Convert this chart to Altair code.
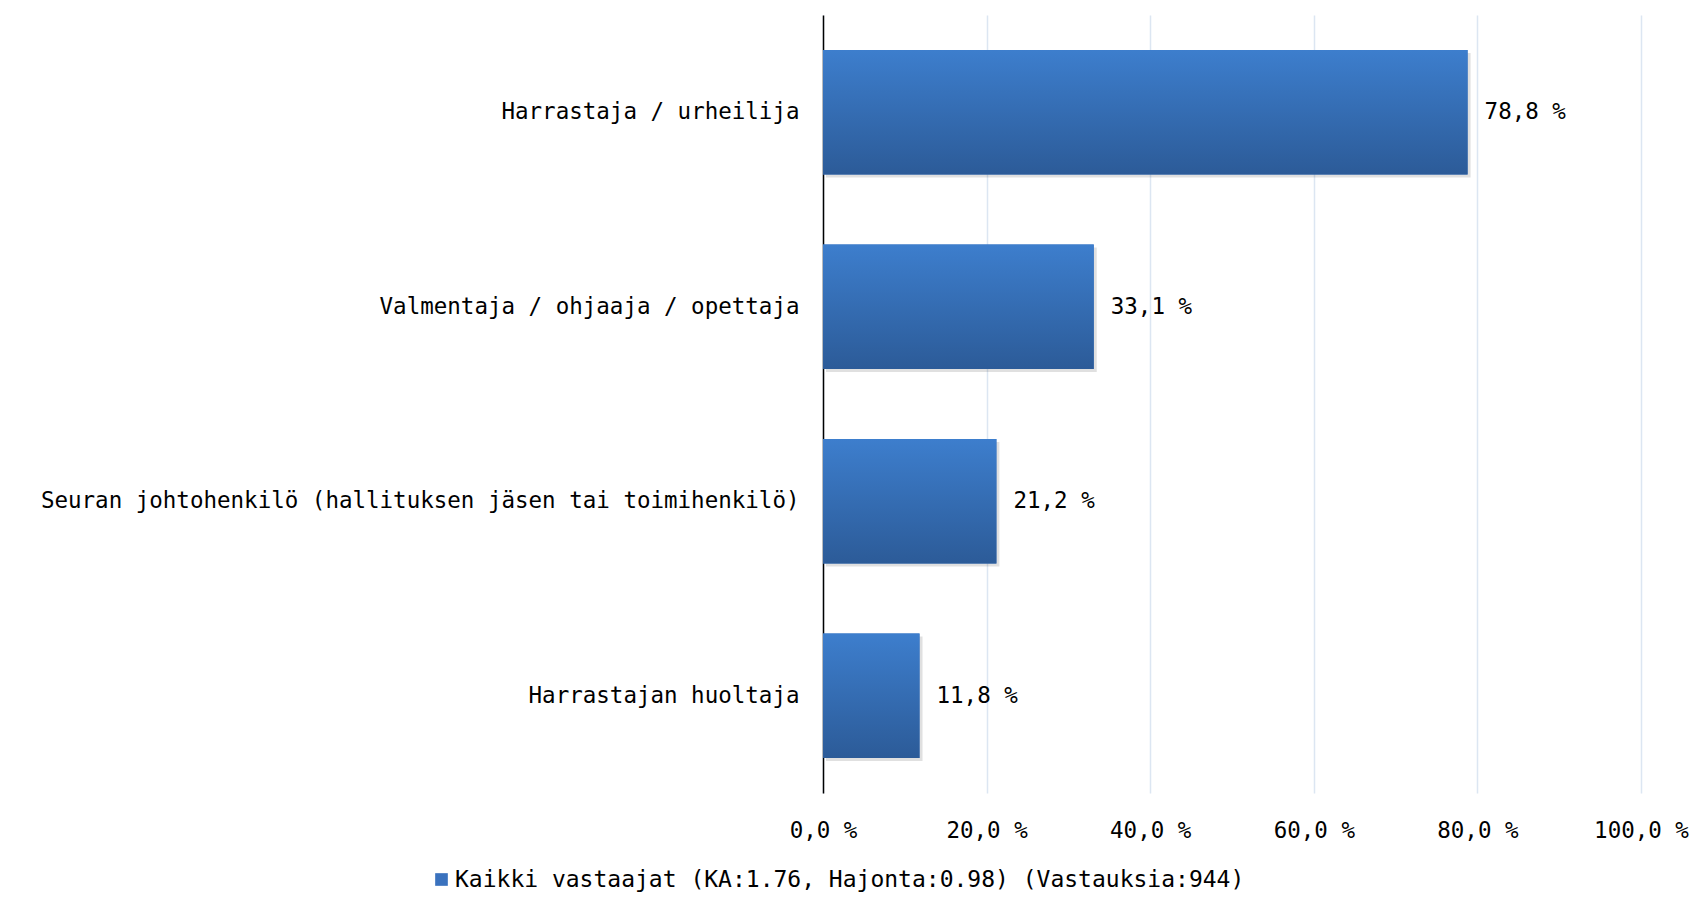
import altair as alt
import pandas as pd

categories = [
    "Harrastaja / urheilija",
    "Valmentaja / ohjaaja / opettaja",
    "Seuran johtohenkilö (hallituksen jäsen tai toimihenkilö)",
    "Harrastajan huoltaja",
]
values = [78.8, 33.1, 21.2, 11.8]
series_name = "Kaikki vastaajat (KA:1.76, Hajonta:0.98) (Vastauksia:944)"
x_ticks = [0, 20, 40, 60, 80, 100]

df = pd.DataFrame({
    "cat": categories,
    "val": values,
    "label": [f"{v:.1f}".replace(".", ",") + " %" for v in values],
    "series": [series_name] * len(values),
})

FONT = "DejaVu Sans Mono"
FS = 22.5

y_enc = alt.Y("cat:N", sort=categories, title=None,
              scale=alt.Scale(paddingInner=0.36, paddingOuter=0.18),
              axis=alt.Axis(labelFontSize=FS, labelFont=FONT, labelColor="#000000",
                            labelPadding=24, labelLimit=1000, ticks=False,
                            domain=True, domainColor="#000000", domainWidth=1.5,
                            grid=False))
x_enc = alt.X("val:Q", title=None,
              scale=alt.Scale(domain=[0, 100], nice=False),
              axis=alt.Axis(values=x_ticks, labelFontSize=FS, labelFont=FONT,
                            labelColor="#000000", labelPadding=26, ticks=False,
                            labelFlush=False, labelOverlap=False,
                            domain=False, grid=True, gridColor="#DCE6F2",
                            gridWidth=1.5,
                            labelExpr="replace(format(datum.value, '.1f'), '.', ',') + ' %'"))

base = alt.Chart(df)

shadow = base.mark_bar(color="#000000", opacity=0.12, xOffset=3, yOffset=3).encode(
    x=x_enc, y=y_enc)

legend_bar = base.mark_bar().encode(
    x=x_enc, y=y_enc,
    color=alt.Color("series:N", title=None,
                    scale=alt.Scale(range=["#3A72BE"]),
                    legend=alt.Legend(orient="none", legendX=-393, legendY=853,
                                      symbolType="square", symbolSize=160,
                                      symbolStrokeWidth=0,
                                      labelFontSize=23, labelFont=FONT,
                                      labelColor="#000000", labelLimit=2000,
                                      labelOffset=2)))

grad_bar = base.mark_bar(
    color=alt.Gradient(
        gradient="linear", x1=0, x2=0, y1=0, y2=1,
        stops=[alt.GradientStop(color="#3D7ECD", offset=0),
               alt.GradientStop(color="#2C5B98", offset=1)])
).encode(x=x_enc, y=y_enc)

labels = base.mark_text(align="left", baseline="middle", dx=17, fontSize=FS,
                        font=FONT, color="#000000").encode(
    x=x_enc, y=y_enc, text="label:N")

chart = alt.layer(shadow, legend_bar, grad_bar, labels).properties(
    width=818, height=778, background="#FFFFFF",
    autosize=alt.AutoSizeParams(type="none"),
    padding={"left": 815, "top": 7, "right": 50, "bottom": 104},
).configure_view(stroke=None)

chart.save("out.html", embed_options={"renderer": "svg", "actions": False})
